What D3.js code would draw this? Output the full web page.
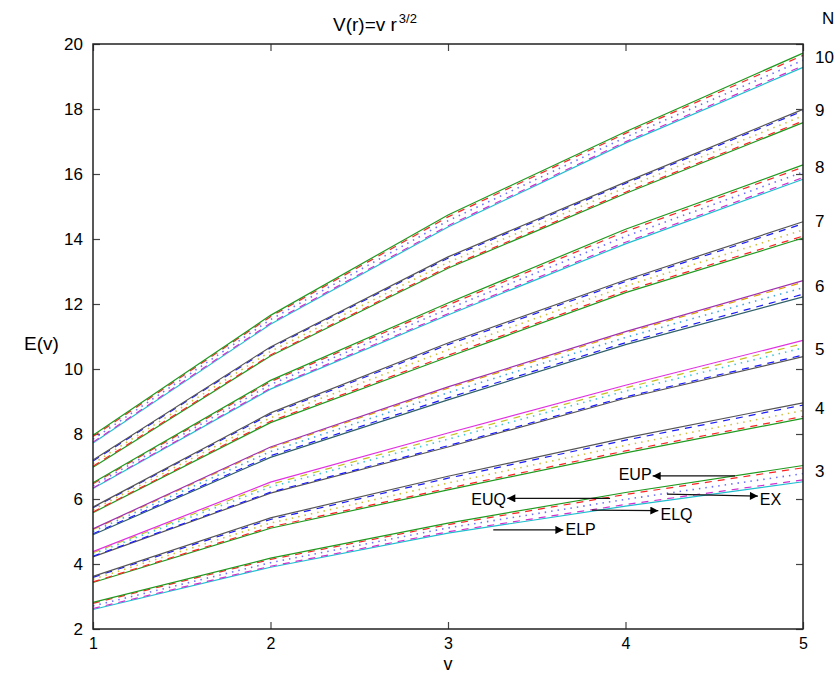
<!DOCTYPE html>
<html>
<head>
<meta charset="utf-8">
<script src="https://cdn.jsdelivr.net/npm/d3@7"></script>
<style>
  body { margin: 0; background: #fff; }
  text { font-family: "Liberation Sans", Arial, sans-serif; fill: #000; }
</style>
</head>
<body>
<svg id="chart" width="834" height="678"></svg>
<script>
// potential parameter v and the levels N=3..10
const vValues = [1, 2, 3, 4, 5];
const nValues = [3, 4, 5, 6, 7, 8, 9, 10];

// five estimates per level, rows are N=3..10, columns v=1..5
const EUP = [
  [2.82, 4.18, 5.26, 6.20, 7.03],
  [3.62, 5.42, 6.70, 7.88, 8.96],
  [4.38, 6.52, 8.03, 9.50, 10.88],
  [5.08, 7.60, 9.45, 11.15, 12.72],
  [5.75, 8.65, 10.80, 12.74, 14.53],
  [6.50, 9.65, 12.03, 14.30, 16.28],
  [7.20, 10.68, 13.45, 15.75, 17.99],
  [7.96, 11.65, 14.74, 17.30, 19.72]
];
const EUQ = [
  [2.79, 4.14, 5.21, 6.14, 6.96],
  [3.59, 5.37, 6.64, 7.81, 8.89],
  [4.35, 6.45, 7.94, 9.42, 10.78],
  [5.06, 7.57, 9.41, 11.11, 12.67],
  [5.73, 8.61, 10.75, 12.69, 14.47],
  [6.47, 9.61, 11.97, 14.23, 16.21],
  [7.17, 10.65, 13.41, 15.71, 17.94],
  [7.92, 11.61, 14.68, 17.25, 19.65]
];
const EX = [
  [2.71, 4.04, 5.11, 5.99, 6.78],
  [3.53, 5.26, 6.49, 7.65, 8.72],
  [4.31, 6.37, 7.84, 9.32, 10.65],
  [5.00, 7.46, 9.27, 10.97, 12.50],
  [5.67, 8.50, 10.59, 12.55, 14.28],
  [6.41, 9.52, 11.85, 14.08, 16.06],
  [7.09, 10.54, 13.28, 15.58, 17.79],
  [7.84, 11.52, 14.56, 17.13, 19.50]
];
const ELQ = [
  [2.63, 3.93, 4.99, 5.83, 6.59],
  [3.45, 5.14, 6.33, 7.48, 8.54],
  [4.24, 6.21, 7.64, 9.14, 10.43],
  [4.93, 7.33, 9.11, 10.81, 12.30],
  [5.60, 8.39, 10.42, 12.40, 14.09],
  [6.34, 9.41, 11.70, 13.90, 15.89],
  [7.01, 10.43, 13.14, 15.44, 17.63],
  [7.75, 11.41, 14.41, 16.99, 19.33]
];
const ELP = [
  [2.60, 3.90, 4.95, 5.78, 6.53],
  [3.43, 5.10, 6.28, 7.42, 8.48],
  [4.22, 6.18, 7.60, 9.10, 10.38],
  [4.90, 7.28, 9.05, 10.75, 12.22],
  [5.58, 8.35, 10.37, 12.35, 14.03],
  [6.32, 9.38, 11.66, 13.85, 15.84],
  [6.98, 10.40, 13.10, 15.40, 17.58],
  [7.72, 11.38, 14.37, 16.95, 19.28]
];
const seriesList = [EUP, EUQ, EX, ELQ, ELP];

// where the N labels sit on the right (energy units)
const nLabelE = [6.86, 8.8, 10.6, 12.55, 14.55, 16.2, 17.98, 19.6];

// arrows: [v tail, E tail, v head, E head], label [v, E]
const arrowNames = ["EUP", "EUQ", "EX", "ELQ", "ELP"];
const arrowPos = [
  [4.617, 6.71, 4.153, 6.71],
  [3.913, 6.02, 3.334, 6.02],
  [4.234, 6.15, 4.746, 6.09],
  [3.81, 5.66, 4.185, 5.64],
  [3.255, 5.05, 3.65, 5.05]
];
const arrowLabel = [
  [4.147, 6.76, "end"],
  [3.327, 5.98, "end"],
  [4.757, 5.98, "start"],
  [4.197, 5.52, "start"],
  [3.662, 5.06, "start"]
];

const yTicks = d3.range(2, 21, 2);

// colour schemes, top line to bottom line
const schemes = {
  A: ["#1f9a1f", "#ff2222", "#6f6fff", "#d030d0", "#1fbfcf"],
  B: ["#555555", "#1a1aff", "#cfc040", "#ff2222", "#1f9a1f"],
  C: ["#a030b0", "#e0a000", "#40a8e0", "#1a1aff", "#2f5f6a"],
  D: ["#e030e0", "#c8c020", "#40c8d8", "#1a1aff", "#555555"]
};
const schemeOfN = ["A", "B", "D", "C", "B", "A", "B", "A"];
const dashes = [null, "7,6", "1.5,5", "7,6", null];

const svg = d3.select("#chart");
const mLeft = 93, mRight = 803, mTop = 44, mBottom = 629;

const x = d3.scaleLinear().domain([1, 5]).range([mLeft, mRight]);
const y = d3.scaleLinear().domain([2, 20]).range([mBottom, mTop]);

// axes with inward ticks
svg.append("g")
  .attr("transform", `translate(0,${mBottom})`)
  .call(d3.axisBottom(x).tickValues(vValues).tickFormat(d3.format("d"))
    .tickSizeInner(-7).tickSizeOuter(0).tickPadding(9))
  .call(g => g.select(".domain").remove())
  .call(g => g.selectAll("text").style("font-size", "16px"));

svg.append("g")
  .attr("transform", `translate(0,${mTop})`)
  .call(d3.axisTop(x).tickValues(vValues).tickFormat("")
    .tickSizeInner(-7).tickSizeOuter(0))
  .call(g => g.select(".domain").remove());

svg.append("g")
  .attr("transform", `translate(${mLeft},0)`)
  .call(d3.axisLeft(y).tickValues(yTicks)
    .tickSizeInner(-7).tickSizeOuter(0).tickPadding(10))
  .call(g => g.select(".domain").remove())
  .call(g => g.selectAll("text").style("font-size", "17px"));

svg.append("g")
  .attr("transform", `translate(${mRight},0)`)
  .call(d3.axisRight(y).tickValues(yTicks).tickFormat("")
    .tickSizeInner(-7).tickSizeOuter(0))
  .call(g => g.select(".domain").remove());

svg.selectAll(".tick line").attr("stroke", "#444").attr("stroke-width", 1.2);

// curves
const line = d3.line()
  .x((d, i) => x(vValues[i]))
  .y(d => y(d));

const plot = svg.append("g");
nValues.forEach(function(n, k) {
  const cols = schemes[schemeOfN[k]];
  // draw bottom first so the top solid line sits above
  for (let s = 4; s >= 0; s--) {
    plot.append("path")
      .datum(seriesList[s][k])
      .attr("d", line)
      .attr("fill", "none")
      .attr("stroke", cols[s])
      .attr("stroke-width", s == 2 ? 1.6 : 1.2)
      .attr("stroke-dasharray", dashes[s]);
  }
});

// frame
svg.append("rect")
  .attr("x", mLeft).attr("y", mTop)
  .attr("width", mRight - mLeft).attr("height", mBottom - mTop)
  .attr("fill", "none")
  .attr("stroke", "#222")
  .attr("stroke-width", 1.5);

// N labels on the right
svg.append("text")
  .attr("x", 822).attr("y", 24)
  .style("font-size", "17px")
  .text("N");
svg.selectAll(".nlab")
  .data(nValues)
  .enter()
  .append("text")
  .attr("class", "nlab")
  .attr("x", 815)
  .attr("y", (d, i) => y(nLabelE[i]))
  .attr("dy", "0.35em")
  .style("font-size", "17px")
  .text(d => d);

// arrows
svg.append("defs").append("marker")
  .attr("id", "head")
  .attr("viewBox", "0 0 10 10")
  .attr("refX", 10).attr("refY", 5)
  .attr("markerWidth", 11).attr("markerHeight", 8)
  .attr("markerUnits", "userSpaceOnUse")
  .attr("orient", "auto")
  .append("path")
  .attr("d", "M0,0L10,5L0,10Z")
  .attr("fill", "#000");

svg.selectAll(".arrow")
  .data(arrowPos)
  .enter()
  .append("line")
  .attr("class", "arrow")
  .attr("x1", d => x(d[0])).attr("y1", d => y(d[1]))
  .attr("x2", d => x(d[2])).attr("y2", d => y(d[3]))
  .attr("stroke", "#111")
  .attr("stroke-width", 1.2)
  .attr("marker-end", "url(#head)");

svg.selectAll(".alab")
  .data(arrowLabel)
  .enter()
  .append("text")
  .attr("class", "alab")
  .attr("x", d => x(d[0]))
  .attr("y", d => y(d[1]))
  .attr("dy", "0.35em")
  .attr("text-anchor", d => d[2])
  .style("font-size", "16px")
  .text((d, i) => arrowNames[i]);

// title and axis labels
const title = svg.append("text")
  .attr("x", 333).attr("y", 31)
  .style("font-size", "19px");
title.append("tspan").text("V(r)=v r");
title.append("tspan").attr("dx", 2).attr("dy", -8).style("font-size", "13px").text("3/2");

svg.append("text")
  .attr("x", 24).attr("y", 350)
  .style("font-size", "19px")
  .text("E(v)");

svg.append("text")
  .attr("x", x(3)).attr("y", 670)
  .attr("text-anchor", "middle")
  .style("font-size", "18px")
  .text("v");
</script>
</body>
</html>
